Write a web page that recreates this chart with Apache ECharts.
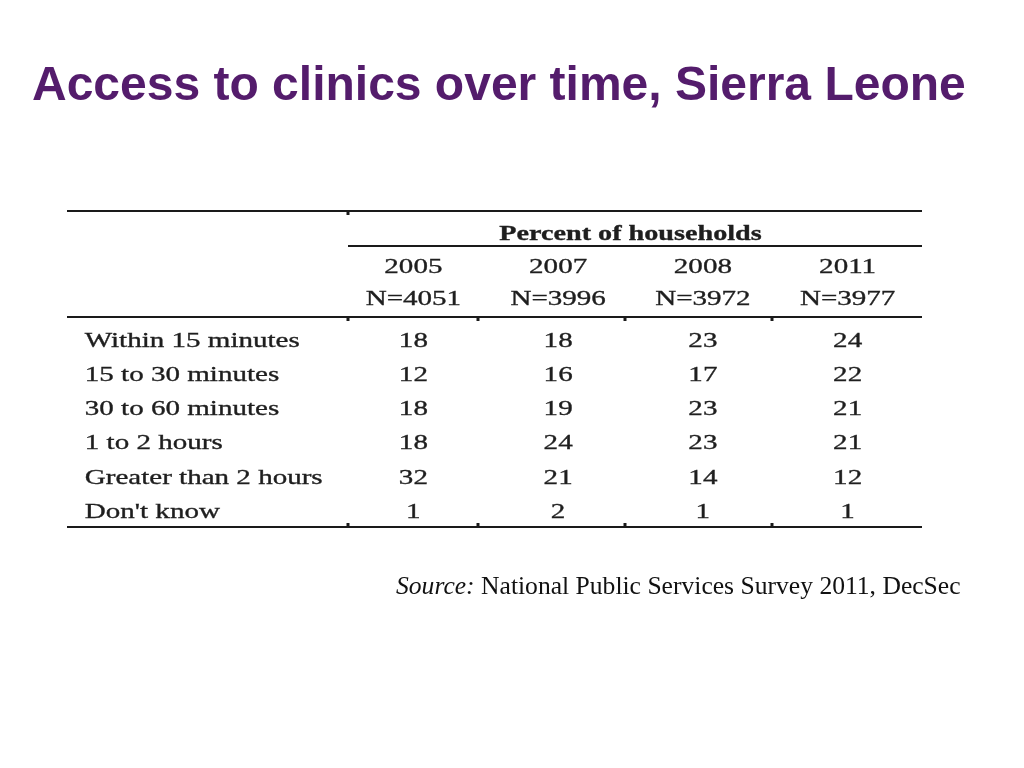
<!DOCTYPE html>
<html>
<head>
<meta charset="utf-8">
<script src="https://cdn.jsdelivr.net/npm/echarts@6/dist/echarts.min.js"></script>
<style>
  html, body { margin: 0; padding: 0; background: #ffffff; }
  #chart { width: 1024px; height: 768px; }
</style>
</head>
<body>
<div id="chart"></div>
<script>
// ---- Data ----
const titleText = "Access to clinics over time, Sierra Leone";
const headerLabel = "Percent of households";
const rowLabels = ["Within 15 minutes", "15 to 30 minutes", "30 to 60 minutes", "1 to 2 hours", "Greater than 2 hours", "Don't know"];
const years = ["2005", "2007", "2008", "2011"];
const sampleSizes = ["N=4051", "N=3996", "N=3972", "N=3977"];
const v2005 = [18, 12, 18, 18, 32, 1];
const v2007 = [18, 16, 19, 24, 21, 2];
const v2008 = [23, 17, 23, 23, 14, 1];
const v2011 = [24, 22, 21, 21, 12, 1];
const sourceItalic = "Source:";
const sourceText = "National Public Services Survey 2011, DecSec";

// ---- Layout (axis units) ----
const ROW_HEADER = -3.12, ROW_YEAR = -2.15, ROW_N = -1.22, COL_LABEL = -2.27;

const columns = [v2005, v2007, v2008, v2011];
const cells = [];
cells.push({ x: 1.5, y: ROW_HEADER, text: headerLabel, kind: 'header' });
years.forEach((y, i) => cells.push({ x: i, y: ROW_YEAR, text: y, kind: 'cell' }));
sampleSizes.forEach((n, i) => cells.push({ x: i, y: ROW_N, text: n, kind: 'cell' }));
rowLabels.forEach((lab, r) => cells.push({ x: COL_LABEL, y: r, text: lab, kind: 'label' }));
columns.forEach((col, c) => col.forEach((v, r) => cells.push({ x: c, y: r, text: String(v), kind: 'cell' })));

const TXT = '#1e1e1e';
const chart = echarts.init(document.getElementById('chart'), null, { renderer: 'canvas' });

function hline(x1, x2, y, w) {
  return { type: 'line', shape: { x1: x1, y1: y, x2: x2, y2: y }, style: { stroke: '#1a1a1a', lineWidth: w } };
}
function tick(x, y, h) {
  return { type: 'rect', shape: { x: x - 1.5, y: y, width: 3, height: h }, style: { fill: '#1a1a1a' } };
}

chart.setOption({
  backgroundColor: '#ffffff',
  animation: false,
  title: [
    {
      text: titleText, left: 27, top: 58,
      textStyle: { fontFamily: 'Liberation Sans, Arial, sans-serif', fontSize: 48, fontWeight: 'bold', color: '#541c6c' }
    },
    {
      text: '{i|' + sourceItalic + '} ' + sourceText, left: 391, top: 569,
      textStyle: {
        fontFamily: 'Liberation Serif, Times New Roman, serif', fontSize: 25.6, fontWeight: 'normal', color: '#111',
        rich: { i: { fontFamily: 'Liberation Serif, Times New Roman, serif', fontSize: 25.6, fontStyle: 'italic', color: '#111' } }
      }
    }
  ],
  grid: { left: 341, right: 104, top: 213, bottom: 239 },
  xAxis: { type: 'value', min: -0.5, max: 3.5, show: false },
  yAxis: { type: 'value', min: -3.75, max: 5.5, inverse: true, show: false },
  series: [{
    type: 'custom',
    clip: false,
    data: cells.map(c => [c.x, c.y]),
    encode: { x: 0, y: 1 },
    renderItem: function (params, api) {
      const c = cells[params.dataIndex];
      const p = api.coord([api.value(0), api.value(1)]);
      const isLabel = c.kind === 'label';
      return {
        type: 'text',
        x: p[0], y: p[1],
        scaleX: c.kind === 'header' ? 1.28 : 1.32,
        style: {
          text: c.text,
          fontFamily: 'Liberation Serif, Times New Roman, serif',
          fontSize: 22,
          fontWeight: c.kind === 'header' ? 'bold' : 'normal',
          fill: TXT,
          stroke: TXT,
          lineWidth: 0.35,
          align: isLabel ? 'left' : 'center',
          verticalAlign: 'middle',
          textAlign: isLabel ? 'left' : 'center',
          textVerticalAlign: 'middle'
        }
      };
    }
  }],
  graphic: [
    hline(67, 922, 211, 2),
    tick(348, 211, 4),
    hline(348, 922, 246, 2),
    hline(67, 922, 317, 2),
    tick(348, 317, 4), tick(478, 317, 4), tick(625, 317, 4), tick(772, 317, 4),
    hline(67, 922, 527, 2),
    tick(348, 523, 4), tick(478, 523, 4), tick(625, 523, 4), tick(772, 523, 4)
  ]
});
</script>
</body>
</html>
